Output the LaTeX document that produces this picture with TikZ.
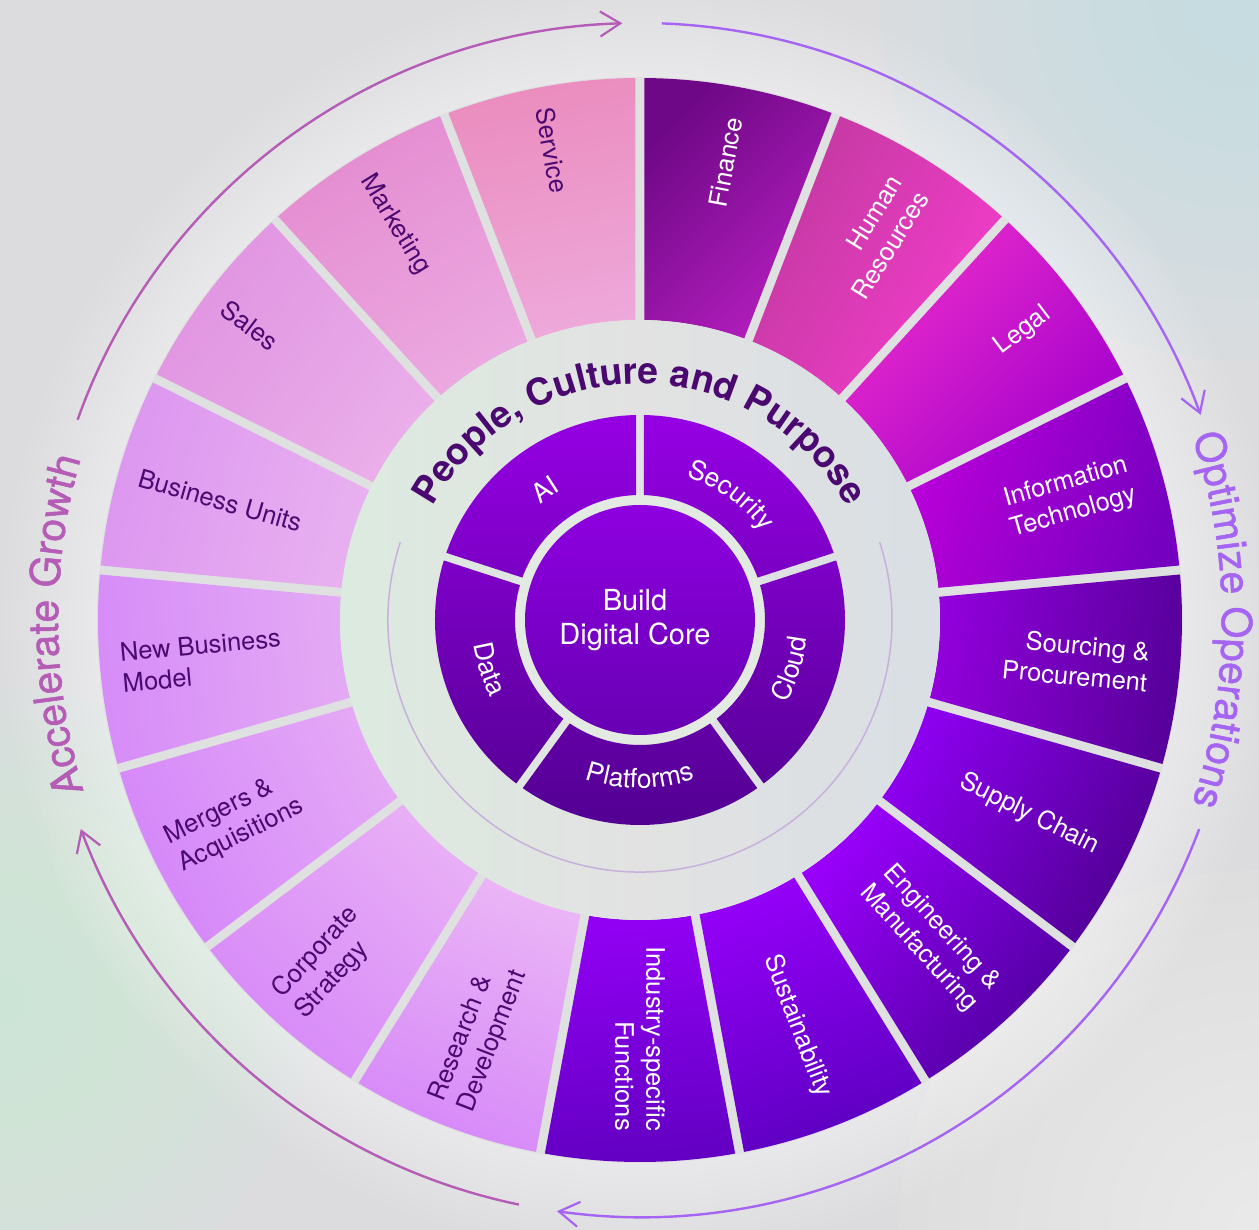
\documentclass[tikz,border=0pt]{standalone}
\usepackage{fontspec}
\setmainfont{TeX Gyre Heros}
\newfontfamily\medfont[FakeBold=1.2]{TeX Gyre Heros}
\usetikzlibrary{decorations.text,arrows.meta}

\definecolor{bgc}{HTML}{DCDCDE}
\definecolor{gapc}{HTML}{DFE0E0}
\definecolor{ringc}{HTML}{E2E2E2}
\definecolor{ringl}{HTML}{DCEBE0}
\definecolor{ringr}{HTML}{D9DFE4}
\definecolor{glowcyan}{HTML}{BCE6EE}
\definecolor{glowmint}{HTML}{C6F2D6}
\definecolor{darktxt}{HTML}{4A0870}
\definecolor{pinkarc}{HTML}{B45CB6}
\definecolor{violetarc}{HTML}{A565F2}
\definecolor{thinarc}{HTML}{C8B0DC}
\definecolor{midtop}{HTML}{9600E4}
\definecolor{midbot}{HTML}{520092}
\definecolor{coretop}{HTML}{8E00E0}
\definecolor{corebot}{HTML}{6800B4}
\definecolor{coreedge}{HTML}{E2EAE2}

\definecolor{sA0}{HTML}{6E0886}\definecolor{sB0}{HTML}{B41EBE}
\definecolor{sA1}{HTML}{C23AA0}\definecolor{sB1}{HTML}{F43CCC}
\definecolor{sA2}{HTML}{EA2CCA}\definecolor{sB2}{HTML}{A400CE}
\definecolor{sA3}{HTML}{BA00DA}\definecolor{sB3}{HTML}{7600C0}
\definecolor{sA4}{HTML}{9200DC}\definecolor{sB4}{HTML}{56009A}
\definecolor{sA5}{HTML}{8C00EE}\definecolor{sB5}{HTML}{500094}
\definecolor{sA6}{HTML}{9800FA}\definecolor{sB6}{HTML}{5000A0}
\definecolor{sA7}{HTML}{9400F8}\definecolor{sB7}{HTML}{5C00C0}
\definecolor{sA8}{HTML}{9200F4}\definecolor{sB8}{HTML}{6200C2}
\definecolor{sA9}{HTML}{EAB4F6}\definecolor{sB9}{HTML}{D688F8}
\definecolor{sA10}{HTML}{E8AEF6}\definecolor{sB10}{HTML}{D688F8}
\definecolor{sA11}{HTML}{E4A8F6}\definecolor{sB11}{HTML}{D486FA}
\definecolor{sA12}{HTML}{E4AAF4}\definecolor{sB12}{HTML}{D68CF8}
\definecolor{sA13}{HTML}{E8B0F0}\definecolor{sB13}{HTML}{DC96F0}
\definecolor{sA14}{HTML}{EAAEEA}\definecolor{sB14}{HTML}{E094E0}
\definecolor{sA15}{HTML}{ECA8E0}\definecolor{sB15}{HTML}{E48CD0}
\definecolor{sA16}{HTML}{EEA8DA}\definecolor{sB16}{HTML}{EB8CBE}

\pgfmathsetmacro\dRo{asin(4.5/542)}
\pgfmathsetmacro\dRi{asin(4.5/300)}

\newcommand\ringseg[2]{%
  \pgfmathsetmacro\aone{90-#1*360/17}%
  \pgfmathsetmacro\atwo{90-(#1+1)*360/17}%
  \pgfmathsetmacro\oa{\aone-\dRo}%
  \pgfmathsetmacro\ob{\atwo+\dRo}%
  \pgfmathsetmacro\ia{\atwo+\dRi}%
  \pgfmathsetmacro\ib{\aone-\dRi}%
  \pgfmathsetmacro\sang{#2-90}%
  \shade[top color=sA#1, bottom color=sB#1, shading angle=\sang]
    (\oa:542pt) arc[start angle=\oa, end angle=\ob, radius=542pt]
    -- (\ia:300pt) arc[start angle=\ia, end angle=\ib, radius=300pt] -- cycle;}

\newcommand\segtext[3]{%
  \pgfmathsetmacro\th{90-(#1+0.5)*360/17}%
  \ifnum#1<9
    \node[segtxt, text=white, rotate=\th, anchor=east, align=right] (#2) at (\th:511pt) {#3};%
  \else
    \pgfmathsetmacro\rot{\th+180}%
    \node[segtxt, text=darktxt, rotate=\rot, anchor=west, align=left] (#2) at (\th:521pt) {#3};%
  \fi}

\newcommand\midlabel[4]{%
  \path[decorate, decoration={text along path, text align=center,
    text={|\fontsize{26.5}{31}\selectfont\color{white}|#4}}]
    (#1:#3pt) arc[start angle=#1, end angle=#2, radius=#3pt];}

\begin{document}
\begin{tikzpicture}[x=1pt,y=1pt,
  segtxt/.style={font=\fontsize{25.5}{31}\selectfont, inner sep=0pt},
  arcline/.style={line width=2.4pt},
  tipbarb/.style={-{Straight Barb[length=20pt,width=25pt,line width=2.2pt]}}]
\useasboundingbox (-640,-610) rectangle (619,620);
\fill[bgc] (-640,-610) rectangle (619,620);
% soft glows in the background
\foreach \i in {1,...,12}{
  \fill[glowcyan, opacity=0.07] (600,620) circle ({\i*30pt});
  \fill[glowmint, opacity=0.07] (-640,-380) circle ({\i*26pt});
  \fill[white, opacity=0.06] (619,-610) circle ({\i*30pt});
}
% halo around the wheel
\foreach \r in {548,556,...,636}{\fill[white, opacity=0.05] (0,0) circle (\r pt);}
\fill[gapc] (0,0) circle (543pt);

% outer ring
\ringseg{0}{135}
\ringseg{1}{150}
\ringseg{2}{135}
\ringseg{3}{160}
\ringseg{4}{170}
\ringseg{5}{150}
\ringseg{6}{140}
\ringseg{7}{110}
\ringseg{8}{95}
\ringseg{9}{68.8}
\ringseg{10}{47.6}
\ringseg{11}{26.5}
\ringseg{12}{5.3}
\ringseg{13}{-15.9}
\ringseg{14}{-37.1}
\ringseg{15}{-58.2}
\ringseg{16}{-79.4}

% people ring
\shade[left color=ringl, right color=ringr, middle color=ringc] (0,0) circle (300pt);
\draw[thinarc, line width=1.5pt] (162:252pt) arc[start angle=162, end angle=378, radius=252pt];
\fill[coreedge] (0,0) circle (126pt);

% middle ring
\foreach \a in {90,18,-54,-126,-198}{
  \pgfmathsetmacro\moa{\a-asin(4/205)}
  \pgfmathsetmacro\mob{\a-72+asin(4/205)}
  \pgfmathsetmacro\mia{\a-72+asin(4/125)}
  \pgfmathsetmacro\mib{\a-asin(4/125)}
  \begin{scope}
    \clip (\moa:205pt) arc[start angle=\moa, end angle=\mob, radius=205pt]
      -- (\mia:125pt) arc[start angle=\mia, end angle=\mib, radius=125pt] -- cycle;
    \shade[top color=midtop, bottom color=midbot] (-206,-206) rectangle (206,206);
  \end{scope}
}

% core
\shade[top color=coretop, bottom color=corebot] (0,0) circle (115pt);
\node[font=\fontsize{29}{34}\selectfont, text=white, align=center] (core) at (-5,0) {Build\\Digital Core};

% outer ring labels
\segtext{0}{finance}{Finance}
\segtext{1}{hr}{Human\\Resources}
\segtext{2}{legal}{Legal}
\segtext{3}{it}{Information\\Technology}
\segtext{4}{sourcing}{Sourcing \&\\Procurement}
\segtext{5}{supply}{Supply Chain}
\segtext{6}{engineering}{Engineering \&\\Manufacturing}
\segtext{7}{sustain}{Sustainability}
\segtext{8}{industry}{Industry-specific\\Functions}
\segtext{9}{rnd}{Research \&\\Development}
\segtext{10}{corporate}{Corporate\\Strategy}
\segtext{11}{mergers}{Mergers \&\\Acquisitions}
\segtext{12}{newbiz}{New Business\\Model}
\segtext{13}{bunits}{Business Units}
\segtext{14}{sales}{Sales}
\segtext{15}{marketing}{Marketing}
\segtext{16}{service}{Service}

% middle ring labels
\midlabel{156}{96}{152}{AI}
\midlabel{89}{19}{151}{Security}
\midlabel{-58}{22}{168}{Cloud}
\midlabel{-135}{-45}{168}{Platforms}
\midlabel{158}{238}{168}{Data}

% people ring label
\path[decorate, decoration={text along path, text align=center,
  text={|\bfseries\fontsize{37}{44}\selectfont\color{darktxt}|People, Culture and Purpose}}]
  (172:236pt) arc[start angle=172, end angle=8, radius=236pt];

% outer arrows
\draw[pinkarc, arcline, tipbarb] (160.4:597pt) arc[start angle=160.4, end angle=91.7, radius=597pt];
\draw[violetarc, arcline, tipbarb] (87.9:597pt) arc[start angle=87.9, end angle=20.1, radius=597pt];
\draw[violetarc, arcline, tipbarb] (-20.5:597pt) arc[start angle=-20.5, end angle=-98, radius=597pt];
\draw[pinkarc, arcline, tipbarb] (-101.7:597pt) arc[start angle=-101.7, end angle=-159.5, radius=597pt];

% outer labels
\path[decorate, decoration={text along path, text align=center,
  text={|\medfont\fontsize{41}{48}\selectfont\color{pinkarc}|Accelerate Growth}}]
  (215.5:582pt) arc[start angle=215.5, end angle=145.5, radius=582pt];
\path[decorate, decoration={text along path, text align=center,
  text={|\medfont\fontsize{41}{48}\selectfont\color{violetarc}|Optimize Operations}}]
  (35:582pt) arc[start angle=35, end angle=-35, radius=582pt];
\end{tikzpicture}
\end{document}
